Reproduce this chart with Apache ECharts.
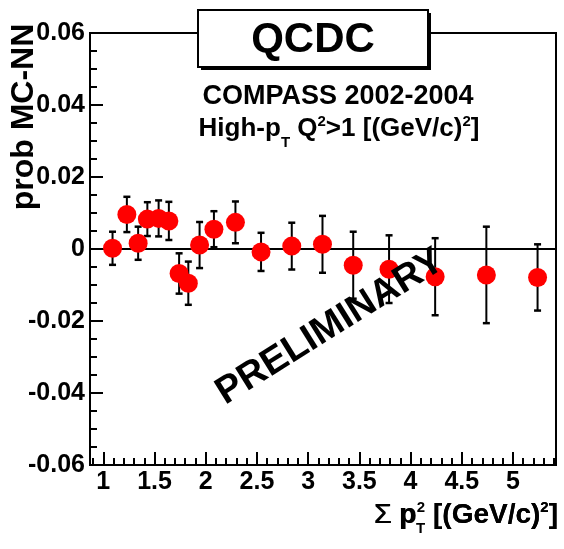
<!DOCTYPE html>
<html>
<head>
<meta charset="utf-8">
<script src="https://cdn.jsdelivr.net/npm/echarts@6/dist/echarts.min.js"></script>
<style>
html,body{margin:0;padding:0;background:#fff;}
#chart{width:564px;height:549px;}
</style>
</head>
<body>
<div id="chart"></div>
<script>
// ---- data ----
var sumPt2 = [1.09, 1.23, 1.34, 1.43, 1.54, 1.64, 1.74, 1.83, 1.94, 2.08, 2.29, 2.54, 2.84, 3.14, 3.44, 3.79, 4.24, 4.74, 5.24];
var probDiff = [0.0002, 0.0096, 0.0016, 0.0083, 0.0085, 0.0078, -0.0068, -0.0095, 0.0011, 0.0055, 0.0074, -0.0008, 0.0008, 0.0013, -0.0045, -0.0056, -0.0077, -0.0072, -0.0079];
var probErr = [0.0046, 0.0049, 0.0046, 0.0047, 0.0050, 0.0053, 0.0056, 0.0060, 0.0064, 0.0050, 0.0058, 0.0053, 0.0065, 0.0079, 0.0093, 0.0094, 0.0107, 0.0134, 0.0092];
var xMajorTicks = [1, 1.5, 2, 2.5, 3, 3.5, 4, 4.5, 5];
var xMinorTicks = [0.9, 1.0, 1.1, 1.2, 1.3, 1.4, 1.5, 1.6, 1.7, 1.8, 1.9, 2.0, 2.1, 2.2, 2.3, 2.4, 2.5, 2.6, 2.7, 2.8, 2.9, 3.0, 3.1, 3.2, 3.3, 3.4, 3.5, 3.6, 3.7, 3.8, 3.9, 4.0, 4.1, 4.2, 4.3, 4.4, 4.5, 4.6, 4.7, 4.8, 4.9, 5.0, 5.1, 5.2, 5.3, 5.4];
var yMinorTicks = [-0.06, -0.055, -0.05, -0.045, -0.04, -0.035, -0.03, -0.025, -0.02, -0.015, -0.01, -0.005, 0, 0.005, 0.01, 0.015, 0.02, 0.025, 0.03, 0.035, 0.04, 0.045, 0.05, 0.055, 0.06];
var xRange = [0.87, 5.42];
var yRange = [-0.06, 0.06];
var yStep = 0.02;

var FONT = '"Liberation Sans", Arial, Helvetica, sans-serif';
var points = sumPt2.map(function (x, i) { return [x, probDiff[i], probErr[i]]; });

var chart = echarts.init(document.getElementById('chart'), null, {renderer: 'canvas'});

var xTitleRich = {
  s: {fontFamily: FONT, fontWeight: 'normal', fontSize: 28, lineHeight: 30, color: '#000'},
  m: {fontFamily: FONT, fontWeight: 'bold', fontSize: 28, lineHeight: 30, color: '#000'},
  sub: {fontFamily: FONT, fontWeight: 'bold', fontSize: 15, lineHeight: 30, padding: [28, 0, 0, 0], color: '#000'},
  sup: {fontFamily: FONT, fontWeight: 'bold', fontSize: 15, lineHeight: 30, padding: [0, 0, 14, 0], color: '#000'},
  hs: {fontFamily: FONT, fontWeight: 'normal', fontSize: 28, lineHeight: 30, color: 'rgba(0,0,0,0)'},
  h: {fontFamily: FONT, fontWeight: 'bold', fontSize: 28, lineHeight: 30, color: 'rgba(0,0,0,0)'},
  hsup: {fontFamily: FONT, fontWeight: 'bold', fontSize: 15, lineHeight: 30, padding: [0, 0, 14, 0], color: 'rgba(0,0,0,0)'}
};

var option = {
  animation: false,
  backgroundColor: '#fff',
  grid: {left: 90, top: 33, width: 466, height: 432, show: true, borderColor: '#000', borderWidth: 2, backgroundColor: 'transparent'},
  xAxis: [{
    type: 'value', min: xRange[0], max: xRange[1],
    axisLine: {show: true, onZero: false, lineStyle: {color: '#000', width: 2}},
    axisTick: {show: true, inside: true, length: 13, lineStyle: {color: '#000', width: 2}, customValues: xMajorTicks},
    axisLabel: {show: true, customValues: xMajorTicks, margin: 5, color: '#000', fontFamily: FONT, fontWeight: 'bold', fontSize: 25},
    splitLine: {show: false}
  }, {
    type: 'value', min: xRange[0], max: xRange[1], position: 'bottom',
    axisLine: {show: false, onZero: false},
    axisTick: {show: true, inside: true, length: 7, lineStyle: {color: '#000', width: 2}, customValues: xMinorTicks},
    axisLabel: {show: false},
    splitLine: {show: false}
  }],
  yAxis: [{
    type: 'value', min: yRange[0], max: yRange[1], interval: yStep,
    axisLine: {show: true, onZero: false, lineStyle: {color: '#000', width: 2}},
    axisTick: {show: true, inside: true, length: 13, lineStyle: {color: '#000', width: 2}},
    axisLabel: {margin: 5, color: '#000', fontFamily: FONT, fontWeight: 'bold', fontSize: 25},
    splitLine: {show: false}
  }, {
    type: 'value', min: yRange[0], max: yRange[1], position: 'left', offset: 0,
    axisLine: {show: false, onZero: false},
    axisTick: {show: true, inside: true, length: 7, lineStyle: {color: '#000', width: 2}, customValues: yMinorTicks},
    axisLabel: {show: false},
    splitLine: {show: false}
  }],
  series: [{
    type: 'custom',
    xAxisIndex: 0, yAxisIndex: 0,
    z: 2,
    data: points,
    encode: {x: 0, y: 1},
    renderItem: function (params, api) {
      var x = api.value(0), y = api.value(1), e = api.value(2);
      var top = api.coord([x, y + e]);
      var bot = api.coord([x, y - e]);
      var cw = 3.5;
      var ls = {stroke: '#000', lineWidth: 2};
      return {type: 'group', children: [
        {type: 'line', shape: {x1: top[0], y1: top[1], x2: bot[0], y2: bot[1]}, style: ls},
        {type: 'line', shape: {x1: top[0] - cw, y1: top[1], x2: top[0] + cw, y2: top[1]}, style: {stroke: '#000', lineWidth: 2.5}},
        {type: 'line', shape: {x1: bot[0] - cw, y1: bot[1], x2: bot[0] + cw, y2: bot[1]}, style: {stroke: '#000', lineWidth: 2.5}}
      ]};
    },
    markLine: {
      silent: true, symbol: 'none', animation: false,
      label: {show: false},
      lineStyle: {color: '#000', width: 2, type: 'solid'},
      data: [{yAxis: 0}]
    }
  }, {
    type: 'scatter',
    xAxisIndex: 0, yAxisIndex: 0,
    z: 5,
    data: points,
    symbol: 'circle',
    symbolSize: 19,
    itemStyle: {color: '#ff0000', opacity: 1}
  }],
  graphic: [
    // title box with shadow
    {type: 'rect', shape: {x: 201, y: 13, width: 230, height: 57}, style: {fill: '#000'}, z: 10},
    {type: 'rect', shape: {x: 198, y: 10, width: 230, height: 57}, style: {fill: '#fff', stroke: '#000', lineWidth: 2}, z: 11},
    {type: 'text', x: 313, y: 40, z: 12, style: {text: 'QCDC', fill: '#000', font: 'bold 42px ' + FONT, textAlign: 'center', textVerticalAlign: 'middle'}},
    // experiment text
    {type: 'text', x: 338, y: 97, z: 12, style: {text: 'COMPASS 2002-2004', fill: '#000', font: 'bold 27px ' + FONT, textAlign: 'center', textVerticalAlign: 'middle'}},
    {type: 'text', x: 339, y: 129, z: 12, style: {
      text: '{m|High-p}{sub|T}{m| Q}{sup|2}{m|>1 [(GeV/c)}{sup|2}{m|]}',
      textAlign: 'center', textVerticalAlign: 'middle',
      rich: {
        m: {fontFamily: FONT, fontWeight: 'bold', fontSize: 26, lineHeight: 30, color: '#000'},
        sub: {fontFamily: FONT, fontWeight: 'bold', fontSize: 15, lineHeight: 30, padding: [28, 0, 0, 0], color: '#000'},
        sup: {fontFamily: FONT, fontWeight: 'bold', fontSize: 15, lineHeight: 30, padding: [0, 0, 14, 0], color: '#000'}
      }
    }},
    // preliminary
    {type: 'text', x: 330, y: 327, rotation: 32 * Math.PI / 180, z: 12, style: {text: 'PRELIMINARY', fill: '#000', font: 'bold 38px ' + FONT, textAlign: 'center', textVerticalAlign: 'middle'}},
    // y axis title
    {type: 'text', x: 24, y: 117, rotation: Math.PI / 2, z: 12, style: {text: 'prob MC-NN', fill: '#000', font: 'bold 32px ' + FONT, textAlign: 'center', textVerticalAlign: 'middle'}},
    // x axis title (T subscript) and stacked superscript 2 aligned with it
    {type: 'text', x: 558, y: 515, z: 12, style: {
      text: '{s|Σ }{m|p}{sub|T}{m| [(GeV/c)}{sup|2}{m|]}',
      textAlign: 'right', textVerticalAlign: 'middle', rich: xTitleRich
    }},
    {type: 'text', x: 558, y: 515, z: 12, style: {
      text: '{hs|Σ }{h|p}{sup|2}{h| [(GeV/c)}{hsup|2}{h|]}',
      textAlign: 'right', textVerticalAlign: 'middle', rich: xTitleRich
    }}
  ]
};
chart.setOption(option);
</script>
</body>
</html>
